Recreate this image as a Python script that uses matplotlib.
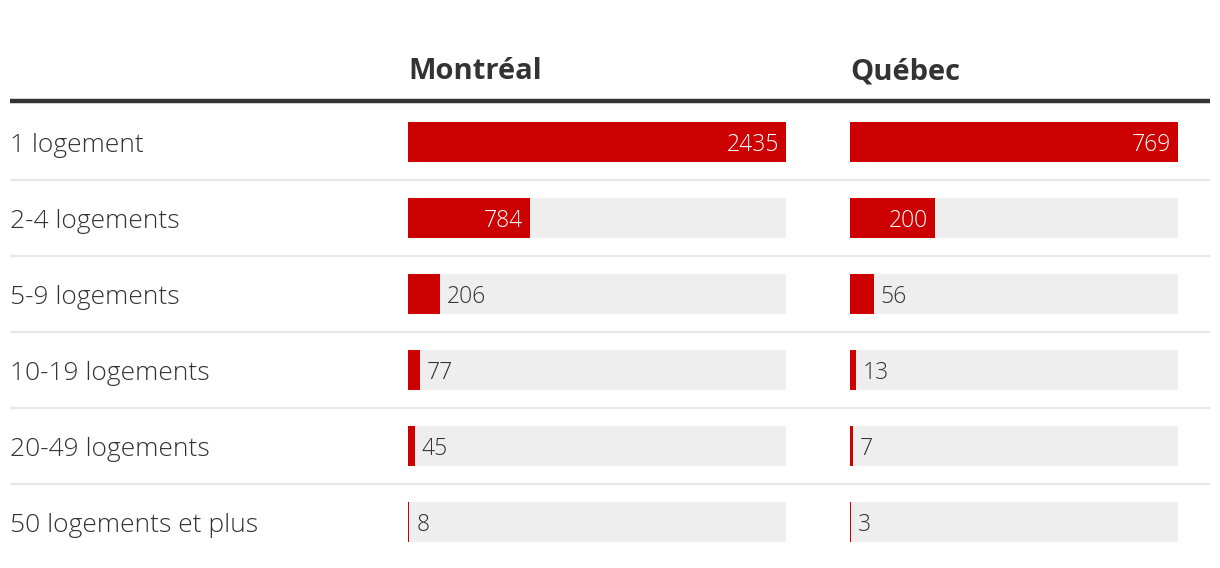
import matplotlib.pyplot as plt
from matplotlib import font_manager

categories = ['1 logement', '2-4 logements', '5-9 logements', '10-19 logements',
              '20-49 logements', '50 logements et plus']
montreal = [2435, 784, 206, 77, 45, 8]
quebec = [769, 200, 56, 13, 7, 3]
cities = ['Montréal', 'Québec']

RED = '#cc0000'
TRACK = '#eeeeee'
TEXT = '#333333'

fams = {f.name for f in font_manager.fontManager.ttflist}
family = 'Open Sans' if 'Open Sans' in fams else 'DejaVu Sans'

W, H = 1220, 568
fig = plt.figure(figsize=(W / 100, H / 100), dpi=100)

row_px = 76
first_px = 142


def row_of(py):
    return (py - first_px) / row_px


def frac_y(py):
    return 1 - py / H


# background axes: labels, separators, header
bg = fig.add_axes([10 / W, frac_y(560), 1200 / W, (560 - 40) / H])
bg.set_xlim(0, 1)
bg.set_ylim(row_of(560), row_of(40))
bg.axis('off')
for i, cat in enumerate(categories):
    bg.text(0, i, cat, ha='left', va='center_baseline', fontsize=19, color=TEXT,
            family=family, fontweight='light')
for i in range(len(categories) - 1):
    bg.axhline(i + 0.5, color='#e8e8e8', lw=1.6)
bg.axhline(row_of(101), color=TEXT, lw=3.2)

columns = [(408, 378, montreal), (850, 328, quebec)]
for (left, width, vals), city in zip(columns, cities):
    ax = fig.add_axes([left / W, frac_y(560), width / W, (560 - 104) / H])
    vmax = max(vals)
    ax.set_xlim(0, vmax)
    ax.set_ylim(row_of(560), row_of(104))
    ax.axis('off')
    ys = range(len(vals))
    ax.barh(ys, [vmax] * len(vals), height=40 / row_px, color=TRACK, lw=0)
    ax.barh(ys, vals, height=40 / row_px, color=RED, lw=0)
    for y, v in zip(ys, vals):
        if v / vmax > 0.15:
            ax.annotate(str(v), (v, y), xytext=(-5, 0), textcoords='offset points',
                        ha='right', va='center_baseline', fontsize=16.5, color='white',
                        family=family, fontweight='light')
        else:
            ax.annotate(str(v), (v, y), xytext=(5, 0), textcoords='offset points',
                        ha='left', va='center_baseline', fontsize=16.5, color=TEXT,
                        family=family, fontweight='light')
    bg.text((left - 10) / 1200, row_of(68), city, ha='left', va='center_baseline',
            fontsize=21, fontweight='bold', color=TEXT, family=family)

fig.savefig('out.png', dpi=100, facecolor='white')
